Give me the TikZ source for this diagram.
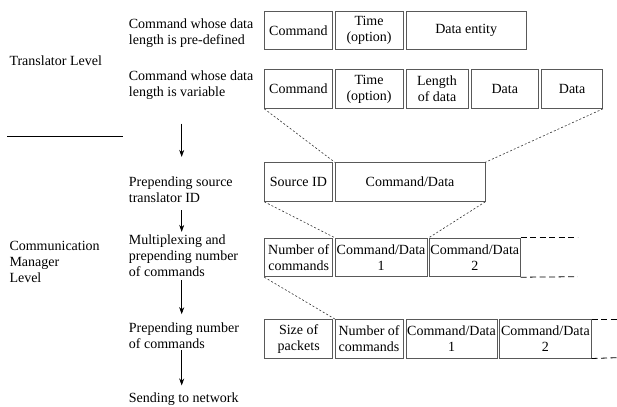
\documentclass[tikz,border=0pt]{standalone}
\usepackage{fontspec}
\setmainfont{Liberation Serif}
\usetikzlibrary{arrows.meta, positioning}

\begin{document}
\begin{tikzpicture}[x=1pt, y=-1pt,
    font=\fontsize{14}{16}\selectfont,
    field/.style={draw=black!65, line width=0.8pt, minimum height=38.7pt,
        inner sep=0pt, anchor=north west},
    lbl/.style={align=center, inner sep=0pt},
    step txt/.style={align=left, anchor=west, inner sep=0pt},
    flow/.style={-{Stealth[length=7pt, width=5pt]}, line width=0.6pt},
    fold/.style={draw=black!80, line width=0.6pt, dash pattern=on 2pt off 2pt},
    more/.style={line width=0.8pt, dash pattern=on 6pt off 3.5pt}
]
\useasboundingbox (0,0) rectangle (617,406);

% Levels
\node[step txt] (trl) at (9.3,61) {Translator Level};
\node[step txt] (cml) at (9.3,262) {Communication\\Manager\\Level};
\coordinate (sepl) at (7.3,136.7);
\coordinate (sepr) at (123.3,136.7);
\draw[line width=0.6pt] (sepl) -- (sepr);

% Steps
\node[step txt] (cmdfix) at (128.7,33) {Command whose data\\length is pre-defined};
\node[step txt] (cmdvar) at (128.7,85) {Command whose data\\length is variable};
\node[step txt] (prepsrc) at (128.7,190) {Prepending source\\translator ID};
\node[step txt] (mux) at (128.7,256) {Multiplexing and\\prepending number\\of commands};
\node[step txt] (prepnum) at (128.7,335.3) {Prepending number\\of commands};
\node[step txt] (send) at (128.7,399) {Sending to network};

\coordinate (ax) at (181.7,0);
\draw[flow, shorten <=24pt, shorten >=20pt] (cmdvar.south -| ax) -- (prepsrc.north -| ax);
\draw[flow, shorten <=7pt, shorten >=3pt] (prepsrc.south -| ax) -- (mux.north -| ax);
\draw[flow, shorten <=3pt, shorten >=8pt] (mux.south -| ax) -- (prepnum.north -| ax);
\draw[flow, shorten <=2pt, shorten >=7pt] (prepnum.south -| ax) -- (send.north -| ax);

% Row 1: fixed length
\node[field, minimum width=67.4pt, label={[lbl]center:Command}] (r1a) at (264.3,10.7) {};
\node[field, minimum width=67.7pt, right=2.3pt of r1a, label={[lbl]center:{Time\\(option)}}] (r1b) {};
\node[field, minimum width=120.3pt, right=2.3pt of r1b, label={[lbl]center:Data entity}] (r1c) {};

% Row 2: variable length
\node[field, minimum width=67.4pt, label={[lbl]center:Command}] (r2a) at (264.3,69.3) {};
\node[field, minimum width=67.7pt, right=2.3pt of r2a, label={[lbl]center:{Time\\(option)}}] (r2b) {};
\node[field, minimum width=62pt, right=2.3pt of r2b, label={[lbl]center:{Length\\of data}}] (r2c) {};
\node[field, minimum width=67.4pt, right=2.3pt of r2c, label={[lbl]center:Data}] (r2d) {};
\node[field, minimum width=61pt, right=2.3pt of r2d, label={[lbl]center:Data}] (r2e) {};

% Row 3: source ID
\node[field, minimum width=67.4pt, label={[lbl]center:Source ID}] (r3a) at (264.3,162.3) {};
\node[field, minimum width=149.7pt, right=2.3pt of r3a, label={[lbl]center:Command/Data}] (r3b) {};

% Row 4: multiplexed
\node[field, minimum width=68pt, label={[lbl]center:{Number of\\commands}}] (r4a) at (264.3,237.7) {};
\node[field, minimum width=91.7pt, right=1.7pt of r4a, label={[lbl]center:{Command/Data\\1}}] (r4b) {};
\node[field, minimum width=91pt, right=1.6pt of r4b, label={[lbl]center:{Command/Data\\2}}] (r4c) {};
\coordinate (r4nt) at (577.7,237.7);
\coordinate (r4st) at (577.7,276.7);
\draw[more] (r4c.north east) -- (r4nt);
\draw[more] (r4c.south east) -- (r4st);

% Row 5: packet
\node[field, minimum width=68pt, label={[lbl]center:{Size of\\packets}}] (r5a) at (264.3,319) {};
\node[field, minimum width=67.7pt, right=1.7pt of r5a, label={[lbl]center:{Number of\\commands}}] (r5b) {};
\node[field, minimum width=91pt, right=2.3pt of r5b, label={[lbl]center:{Command/Data\\1}}] (r5c) {};
\node[field, minimum width=91.3pt, right=2pt of r5c, label={[lbl]center:{Command/Data\\2}}] (r5d) {};
\coordinate (r5nt) at (617,319);
\coordinate (r5st) at (617,357.7);
\draw[more] (r5d.north east) -- (r5nt);
\draw[more] (r5d.south east) -- (r5st);

% Expansion lines
\draw[fold] (r2a.south west) -- (r3b.north west);
\draw[fold] (r2e.south east) -- (r3b.north east);
\draw[fold] (r3a.south west) -- (r4b.north west);
\draw[fold] (r3b.south east) -- (r4c.north west);
\draw[fold] (r4a.south west) -- (r5b.north west);

\end{tikzpicture}
\end{document}
